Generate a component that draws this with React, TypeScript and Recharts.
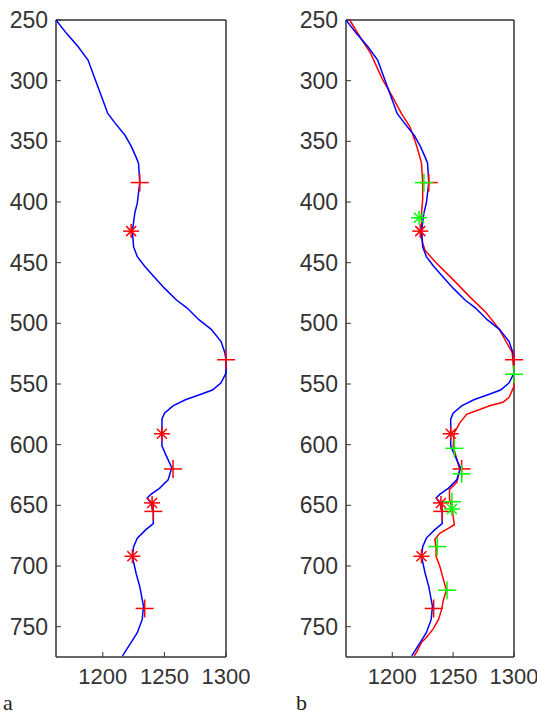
import React from 'react';
import { ScatterChart, Scatter, XAxis, YAxis } from 'recharts';

// blue trace (same curve in both panels)
const blueDepth = [250, 261, 272, 283, 294, 305, 316, 327, 335, 345, 354, 363, 368, 384, 401, 409, 424, 437, 445, 453, 461, 471, 481, 487, 497, 505, 515, 524, 530, 541, 549, 555, 559, 563, 568, 574, 579, 590, 601, 608, 619, 629, 636, 641, 644, 648, 655, 665, 670, 677, 684, 692, 706, 717, 733, 744, 755, 763, 774];
const blueVal = [1162, 1170.5, 1180, 1188, 1192, 1196, 1200, 1204, 1210, 1218, 1223, 1227, 1229, 1230, 1228, 1226, 1224, 1225, 1228, 1234, 1241, 1250, 1260, 1268, 1278, 1288, 1296, 1299, 1300, 1300, 1296, 1289, 1278, 1267, 1257, 1250, 1248, 1248, 1248, 1251, 1256, 1253, 1246, 1239, 1236, 1239, 1241, 1241, 1235, 1228, 1225, 1224, 1227, 1230, 1233, 1232, 1228, 1223, 1216];

// red trace (panel b)
const redDepth = [250, 264, 277, 288, 299, 313, 327, 338, 349, 357, 368, 384, 398, 409, 426, 434, 440, 450, 464, 478, 491, 505, 516, 524, 530, 541, 552, 561, 565, 568, 572, 575, 582, 590, 601, 612, 621, 631, 637, 645, 652, 659, 666, 669, 673, 678, 685, 692, 700, 711, 720, 728, 736, 744, 752, 759, 763, 771, 774];
const redVal = [1165, 1173.5, 1182, 1187, 1192, 1200, 1207.5, 1214.5, 1218.5, 1221, 1224, 1225, 1225, 1224, 1224, 1225, 1227, 1236, 1250, 1263.5, 1277, 1288, 1294, 1298.5, 1299, 1300, 1300, 1296, 1291, 1280, 1269, 1261, 1255.5, 1251, 1250, 1253, 1255.5, 1253, 1247, 1247, 1249, 1250, 1251, 1246, 1239, 1235, 1236, 1236, 1239, 1242, 1244.5, 1242, 1240.5, 1238, 1233.5, 1228, 1224, 1220, 1218];

// red markers (both panels)
const redPlusDepth = [384, 530, 620, 655, 735];
const redPlusVal = [1230, 1300, 1257, 1241, 1234];
const redStarDepth = [424, 591, 648, 692];
const redStarVal = [1223, 1248, 1240, 1224];

// green markers (panel b)
const greenPlusDepth = [384, 542, 603, 624, 647, 684, 720];
const greenPlusVal = [1226, 1300, 1251, 1257, 1249, 1237, 1245];
const greenStarDepth = [413, 653];
const greenStarVal = [1222, 1249];

const xTicks = [1200, 1250, 1300];
const yTicks = [250, 300, 350, 400, 450, 500, 550, 600, 650, 700, 750];

const pts = (xs: number[], ys: number[]) => xs.map((x, i) => ({ x, y: ys[i] }));

const AXIS = '#333';
const tickStyle = { fill: '#333', fontSize: 22, fontFamily: 'Liberation Sans, Arial, sans-serif' };
const yTickStyle = { ...tickStyle, fontSize: 23 };

const noDot = () => <g />;

const plus = (color: string) => (props: any) => {
  const { cx, cy } = props;
  return (
    <g stroke={color} strokeWidth={1.5}>
      <line x1={cx - 9} y1={cy} x2={cx + 9} y2={cy} />
      <line x1={cx} y1={cy - 9} x2={cx} y2={cy + 9} />
    </g>
  );
};

const star = (color: string) => (props: any) => {
  const { cx, cy } = props;
  return (
    <g stroke={color} strokeWidth={1.5}>
      <line x1={cx - 8} y1={cy} x2={cx + 8} y2={cy} />
      <line x1={cx} y1={cy - 7} x2={cx} y2={cy + 7} />
      <line x1={cx - 5} y1={cy - 5} x2={cx + 5} y2={cy + 5} />
      <line x1={cx - 5} y1={cy + 5} x2={cx + 5} y2={cy - 5} />
    </g>
  );
};

const Panel = ({ width, rightW, showRed }: { width: number; rightW: number; showRed: boolean }) => (
  <ScatterChart width={width} height={714} margin={{ top: 0, right: 0, bottom: 0, left: 0 }}>
    <XAxis
      type="number"
      dataKey="x"
      domain={[1162, 1300]}
      ticks={xTicks}
      height={57}
      tickSize={-5}
      tickMargin={16}
      tick={tickStyle}
      axisLine={{ stroke: AXIS, strokeWidth: 1.5 }}
      tickLine={{ stroke: AXIS }}
    />
    <XAxis
      xAxisId="top"
      orientation="top"
      type="number"
      dataKey="x"
      domain={[1162, 1300]}
      ticks={xTicks}
      height={20}
      tickSize={-5}
      tickFormatter={() => ''}
      axisLine={{ stroke: AXIS, strokeWidth: 1.5 }}
      tickLine={{ stroke: AXIS }}
    />
    <YAxis
      type="number"
      dataKey="y"
      domain={[250, 775]}
      reversed
      ticks={yTicks}
      width={56}
      tickSize={-5}
      tickMargin={13}
      tick={yTickStyle}
      axisLine={{ stroke: AXIS, strokeWidth: 1.5 }}
      tickLine={{ stroke: AXIS }}
    />
    <YAxis
      yAxisId="right"
      orientation="right"
      type="number"
      dataKey="y"
      domain={[250, 775]}
      reversed
      ticks={yTicks}
      width={rightW}
      tickSize={-5}
      tickFormatter={() => ''}
      axisLine={{ stroke: AXIS, strokeWidth: 1.5 }}
      tickLine={{ stroke: AXIS }}
    />
    {showRed && (
      <Scatter
        data={pts(redVal, redDepth)}
        line={{ stroke: '#ff0000', strokeWidth: 1.5 }}
        lineType="joint"
        shape={noDot}
        isAnimationActive={false}
      />
    )}
    <Scatter
      data={pts(blueVal, blueDepth)}
      line={{ stroke: '#0000ff', strokeWidth: 1.5 }}
      lineType="joint"
      shape={noDot}
      isAnimationActive={false}
    />
    <Scatter data={pts(redPlusVal, redPlusDepth)} shape={plus('#ff0000')} isAnimationActive={false} />
    <Scatter data={pts(redStarVal, redStarDepth)} shape={star('#ff0000')} isAnimationActive={false} />
    {showRed && (
      <Scatter data={pts(greenPlusVal, greenPlusDepth)} shape={plus('#00ff00')} isAnimationActive={false} />
    )}
    {showRed && (
      <Scatter data={pts(greenStarVal, greenStarDepth)} shape={star('#00ff00')} isAnimationActive={false} />
    )}
  </ScatterChart>
);

export default function App() {
  return (
    <div style={{ position: 'absolute', left: 0, top: 0, width: 537, height: 714, background: '#fff' }}>
      <div style={{ position: 'absolute', left: 0, top: 0 }}>
        <Panel width={270} rightW={44} showRed={false} />
      </div>
      <div style={{ position: 'absolute', left: 290, top: 0 }}>
        <Panel width={247} rightW={23} showRed={true} />
      </div>
      <div style={{ position: 'absolute', left: 3, top: 690, fontFamily: 'Liberation Serif, Times New Roman, serif', fontSize: 22, color: '#222' }}>a</div>
      <div style={{ position: 'absolute', left: 296, top: 690, fontFamily: 'Liberation Serif, Times New Roman, serif', fontSize: 22, color: '#222' }}>b</div>
    </div>
  );
}
